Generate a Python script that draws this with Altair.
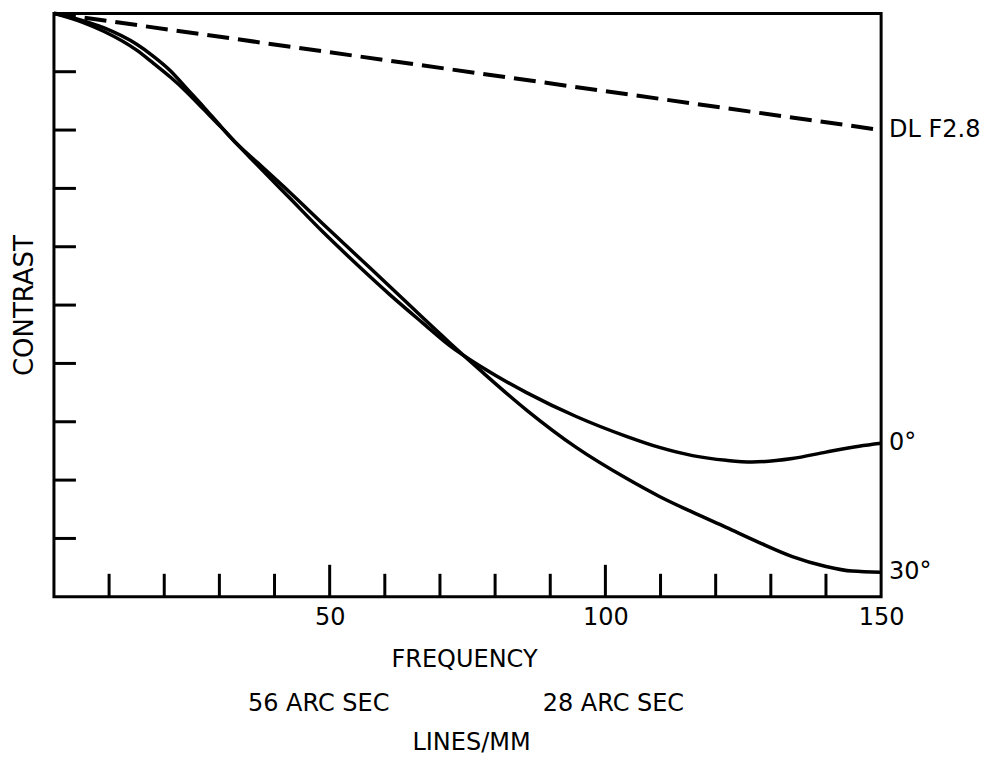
import altair as alt
import pandas as pd

# ---- data ----
freq_0 = [0, 5.1, 9.1, 15.0, 18.1, 21.2, 24.1, 27.2, 30.3, 33.2, 36.8, 42.8, 48.7, 54.9,
          60.9, 66.8, 71.7, 77.7, 85.7, 94.7, 103.8, 109.8, 115.8, 121.9, 126.6,
          133.9, 140.0, 146.0, 150]
contrast_0 = [1.0, 0.988, 0.975, 0.947, 0.926, 0.901, 0.871, 0.839, 0.806, 0.776,
              0.741, 0.683, 0.626, 0.570, 0.518, 0.470, 0.431, 0.393, 0.350, 0.309,
              0.275, 0.256, 0.242, 0.234, 0.231, 0.237, 0.248, 0.258, 0.263]

freq_30 = [0, 5.1, 9.1, 15.0, 18.1, 21.2, 24.1, 27.2, 30.3, 33.2, 36.8, 42.8, 48.7, 54.9,
           60.9, 66.8, 71.7, 77.7, 85.7, 94.7, 103.8, 109.8, 115.8, 121.9, 127.9,
           133.9, 140.0, 144.7, 150]
contrast_30 = [1.0, 0.985, 0.969, 0.937, 0.914, 0.890, 0.865, 0.835, 0.805, 0.776,
               0.745, 0.693, 0.640, 0.585, 0.532, 0.479, 0.436, 0.385, 0.320, 0.256,
               0.203, 0.172, 0.145, 0.119, 0.093, 0.069, 0.052, 0.044, 0.042]

freq_dl = [0, 150]
contrast_dl = [1.0, 0.80]

end_labels = ["DL F2.8", "0°", "30°"]
end_values = [0.80, 0.263, 0.042]

x_minor_ticks = [10, 20, 30, 40, 60, 70, 80, 90, 110, 120, 130, 140]
x_major_ticks = [50, 100]
x_label_values = [50, 100, 150]
y_ticks = [0.1, 0.2, 0.3, 0.4, 0.5, 0.6, 0.7, 0.8, 0.9]

FONT = "DejaVu Sans"
W, H = 828, 584
FS = 24

curves = pd.concat([
    pd.DataFrame({"freq": freq_0, "contrast": contrast_0, "series": "0"}),
    pd.DataFrame({"freq": freq_30, "contrast": contrast_30, "series": "30"}),
])
dl = pd.DataFrame({"freq": freq_dl, "contrast": contrast_dl})
labels = pd.DataFrame({"freq": [150] * 3, "contrast": end_values, "text": end_labels})

xs = alt.Scale(domain=[0, 150], nice=False, zero=False)
ys = alt.Scale(domain=[0, 1], nice=False)

x_enc = alt.X("freq:Q", scale=xs,
              axis=alt.Axis(values=x_label_values, labelFontSize=FS, labelFont=FONT,
                            labelColor="black", ticks=False, domain=False, grid=False,
                            labelPadding=9, title=None, labelFlush=False))
y_enc = alt.Y("contrast:Q", scale=ys,
              axis=alt.Axis(labels=False, ticks=False, domain=False, grid=False,
                            title="CONTRAST", titleFontSize=26, titleFont=FONT,
                            titleFontWeight="normal", titleColor="black",
                            titlePadding=16))

solid = alt.Chart(curves).mark_line(color="black", strokeWidth=3.5,
                                    interpolate="monotone").encode(
    x=x_enc, y=y_enc, detail="series:N")

dashed = alt.Chart(dl).mark_line(color="black", strokeWidth=4, strokeDash=[22, 9]).encode(
    x=alt.X("freq:Q", scale=xs), y=alt.Y("contrast:Q", scale=ys))

minor = alt.Chart(pd.DataFrame({"freq": x_minor_ticks})).mark_rule(
    color="black", strokeWidth=3).encode(
    x=alt.X("freq:Q", scale=xs), y=alt.value(H), y2=alt.value(H - 23))
major = alt.Chart(pd.DataFrame({"freq": x_major_ticks})).mark_rule(
    color="black", strokeWidth=3).encode(
    x=alt.X("freq:Q", scale=xs), y=alt.value(H), y2=alt.value(H - 32))
yt = alt.Chart(pd.DataFrame({"contrast": y_ticks})).mark_rule(
    color="black", strokeWidth=3).encode(
    y=alt.Y("contrast:Q", scale=ys), x=alt.value(0), x2=alt.value(22))

end_text = alt.Chart(labels).mark_text(
    align="left", baseline="middle", dx=8, fontSize=FS, font=FONT, color="black").encode(
    x=alt.X("freq:Q", scale=xs), y=alt.Y("contrast:Q", scale=ys), text="text:N")

def note(txt, px, py):
    return alt.Chart(pd.DataFrame({"t": [txt]})).mark_text(
        align="center", baseline="middle", fontSize=FS, font=FONT, color="black").encode(
        x=alt.value(px), y=alt.value(py), text="t:N")

notes = [
    note("FREQUENCY", 411, 647),
    note("56 ARC SEC", 265, 691),
    note("28 ARC SEC", 560, 691),
    note("LINES/MM", 418, 730),
]

chart = alt.layer(solid, dashed, minor, major, yt, end_text, *notes).properties(
    width=W, height=H, background="white",
    autosize=alt.AutoSizeParams(type="none"),
    padding={"left": 46, "top": 5, "right": 110, "bottom": 162},
).configure_view(stroke="black", strokeWidth=3)

chart.save("out.html", embed_options={"renderer": "svg", "actions": False})
